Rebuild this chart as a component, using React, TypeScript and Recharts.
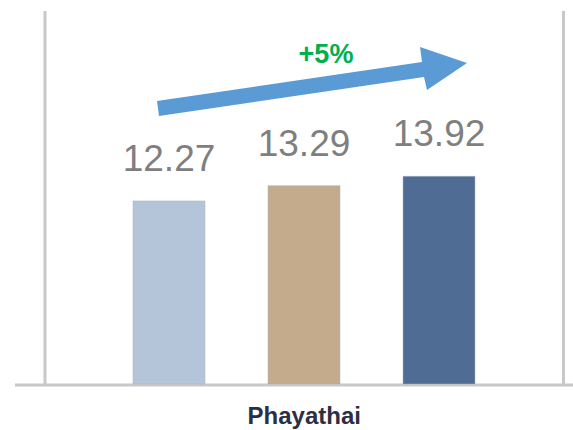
import React from "react";
import { BarChart, Bar, XAxis, YAxis, LabelList, Customized } from "recharts";

const categories = ["Phayathai"];
const seriesNames = ["s1", "s2", "s3"];
const seriesValues = [[12.27], [13.29], [13.92]];
const seriesColors = ["#b5c5d9", "#c4ab8b", "#4f6d94"];
const growthLabel = "+5%";

const data = categories.map((name, i) => {
  const row: Record<string, string | number> = { name };
  seriesNames.forEach((key, s) => {
    row[key] = seriesValues[s][i];
  });
  return row;
});

const Decorations = () => (
  <g>
    {/* frame lines */}
    <line x1={45} y1={11} x2={45} y2={384} stroke="#c8c8c8" strokeWidth={3} />
    <line x1={563.5} y1={11} x2={563.5} y2={384} stroke="#c8c8c8" strokeWidth={3} />
    <line x1={15} y1={385} x2={573} y2={385} stroke="#c8c8c8" strokeWidth={3} />
    {/* growth arrow */}
    <polygon
      points="157,101 422,62 420,47 467,63 427,90 424,77 159,116"
      fill="#5b9bd5"
    />
    <text
      x={326}
      y={63}
      textAnchor="middle"
      fill="#00b050"
      fontSize={27}
      fontWeight="bold"
      fontFamily="Liberation Sans, Arial, sans-serif"
    >
      {growthLabel}
    </text>
  </g>
);

export default function App() {
  return (
    <div style={{ position: "absolute", left: 0, top: 0, width: 573, height: 430 }}>
      <BarChart
        width={573}
        height={430}
        data={data}
        margin={{ top: 11, right: 9.5, bottom: 0, left: 45 }}
        barSize={72}
        barGap={63}
      >
        <XAxis
          dataKey="name"
          axisLine={false}
          tickLine={false}
          height={46}
          tickMargin={17}
          tick={{
            fill: "#2b2f45",
            fontSize: 24,
            fontWeight: "bold",
            fontFamily: "Liberation Sans, Arial, sans-serif",
          }}
        />
        <YAxis hide domain={[0, 25]} />
        {seriesNames.map((key, s) => (
          <Bar
            key={key}
            dataKey={key}
            fill={seriesColors[s]}
            stroke="#a9b3bf"
            strokeWidth={0.5}
            isAnimationActive={false}
          >
            <LabelList
              dataKey={key}
              position="top"
              offset={30}
              fill="#7f7f7f"
              fontSize={37}
              fontFamily="Liberation Sans, Arial, sans-serif"
            />
          </Bar>
        ))}
        <Customized component={<Decorations />} />
      </BarChart>
    </div>
  );
}
